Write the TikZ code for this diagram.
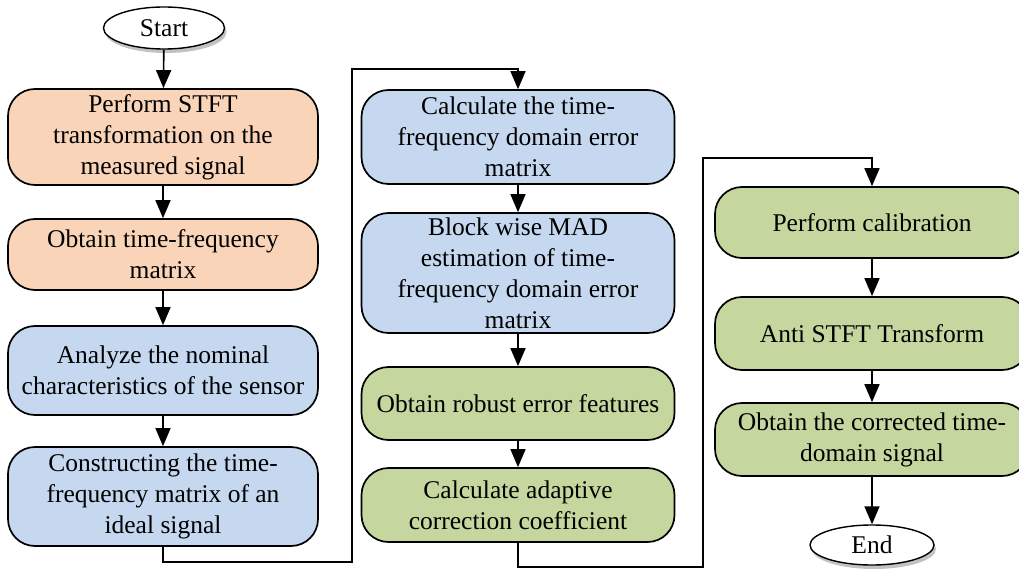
\documentclass[tikz,border=0pt]{standalone}
\usepackage{fontspec}
\setmainfont{Liberation Serif}
\usetikzlibrary{arrows.meta,shapes.geometric,shadows}
\definecolor{peach}{HTML}{F9D4B8}
\definecolor{lblue}{HTML}{C6D8EF}
\definecolor{lgreen}{HTML}{C5D69F}
\tikzset{
  box/.style={draw=black, line width=1.7pt, rounded corners=27pt, inner sep=0pt,
    align=center, font=\fontsize{25.5}{31}\selectfont},
  obox/.style={box, fill=peach},
  bbox/.style={box, fill=lblue},
  gbox/.style={box, fill=lgreen},
  term/.style={ellipse, draw=black, line width=1.4pt, fill=white, inner sep=0pt,
    font=\fontsize{25.5}{31}\selectfont,
    drop shadow={shadow xshift=2pt, shadow yshift=-4pt, opacity=0.4, fill=black!60}},
  arr/.style={line width=1.6pt, -{Triangle[length=18pt,width=15pt]}},
  ln/.style={line width=1.6pt}
}
\begin{document}
\begin{tikzpicture}[x=1pt,y=-1pt]
\useasboundingbox (0,0) rectangle (1019,569);
% column 1
\node[term, minimum width=121pt, minimum height=42pt] (s) at (164,28) {Start};
\node[obox, minimum width=310pt, minimum height=96pt] (b1) at (163,137) {Perform STFT\\transformation on the\\measured signal};
\node[obox, minimum width=310pt, minimum height=71pt] (b2) at (163,254.5) {Obtain time-frequency\\matrix};
\node[bbox, minimum width=310pt, minimum height=89pt] (b3) at (163,370.5) {Analyze the nominal\\characteristics of the sensor};
\node[bbox, minimum width=310pt, minimum height=99pt] (b4) at (163,496.5) {Constructing the time-\\frequency matrix of an\\ideal signal};
% column 2
\node[bbox, minimum width=313pt, minimum height=94pt] (c1) at (518,137) {Calculate the time-\\frequency domain error\\matrix};
\node[bbox, minimum width=313pt, minimum height=120pt] (c2) at (518,273) {Block wise MAD\\estimation of time-\\frequency domain error\\matrix};
\node[gbox, minimum width=313pt, minimum height=73pt] (c3) at (518,403.5) {Obtain robust error features};
\node[gbox, minimum width=313pt, minimum height=74pt] (c4) at (518,505) {Calculate adaptive\\correction coefficient};
% column 3
\node[gbox, minimum width=314pt, minimum height=71pt] (r1) at (872,222.5) {Perform calibration};
\node[gbox, minimum width=314pt, minimum height=73pt] (r2) at (872,333.5) {Anti STFT Transform};
\node[gbox, minimum width=314pt, minimum height=73pt] (r3) at (872,439.5) {Obtain the corrected time-\\domain signal};
\node[term, minimum width=124pt, minimum height=40pt] (e) at (872,545) {End};
% corner coordinates
\coordinate (p1) at (352,562);
\coordinate (p2) at (352,69);
\coordinate (q1) at (703,567);
\coordinate (q2) at (703,158);
% connectors
\draw[arr] (s) -- (b1);
\draw[arr] (b1) -- (b2);
\draw[arr] (b2) -- (b3);
\draw[arr] (b3) -- (b4);
\draw[arr] (b4.south) |- (p1) -- (p2) -| (c1.north);
\draw[arr] (c1) -- (c2);
\draw[arr] (c2) -- (c3);
\draw[arr] (c3) -- (c4);
\draw[arr] (c4.south) |- (q1) -- (q2) -| (r1.north);
\draw[arr] (r1) -- (r2);
\draw[arr] (r2) -- (r3);
\draw[arr] (r3) -- (e);
\end{tikzpicture}
\end{document}
